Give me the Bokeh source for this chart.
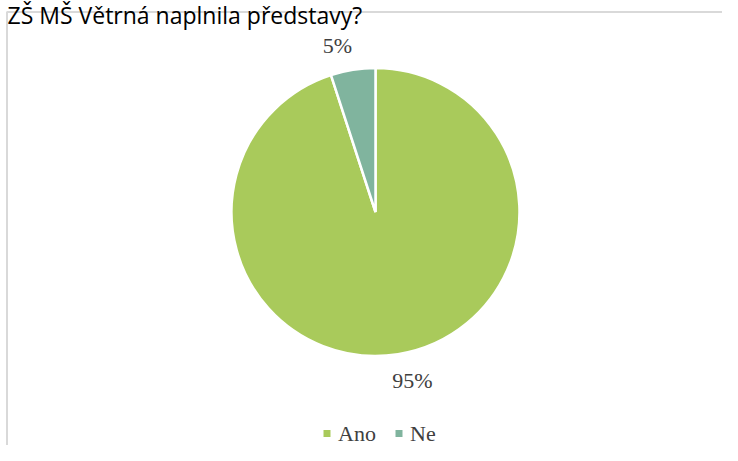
import numpy as np
from bokeh.plotting import figure
from bokeh.models import Range1d, ColumnDataSource
from bokeh.core.properties import value
from bokeh.embed import file_html
from bokeh.resources import INLINE

title_text = "ZŠ MŠ Větrná naplnila představy?"
categories = ["Ano", "Ne"]
shares = [95, 5]
colors = ["#A9CA5B", "#80B49E"]

W, H = 722, 445
TOP = 461  # picture height used for y positions measured from top

p = figure(width=W, height=H, output_backend="svg", toolbar_location=None,
           x_range=Range1d(0, W), y_range=Range1d(TOP - H, TOP),
           min_border=0, outline_line_color=None)
p.axis.visible = False
p.xgrid.visible = False
p.ygrid.visible = False
p.background_fill_color = "white"

# chart frame (cut-off at right and bottom)
p.line(x=[6.5, 6.5, W + 5], y=[0, TOP - 11.5, TOP - 11.5], line_color="#D9D9D9", line_width=2)

# title (cut off at top as in the source)
p.text(x=[7], y=[TOP - 14.5], text=[title_text], text_font=value("Open Sans"),
       text_font_size="23px", text_color="#000000", text_baseline="alphabetic")

# pie
cx, cy, r = 375, TOP - 211.5, 144
vals = np.array(shares, dtype=float)
frac = vals / vals.sum()
cum_end = np.cumsum(frac)
cum_start = cum_end - frac
start = np.pi / 2 - 2 * np.pi * cum_end
end = np.pi / 2 - 2 * np.pi * cum_start
src = ColumnDataSource(dict(start=start, end=end, color=colors, cat=categories))
p.wedge(x=cx, y=cy, radius=r, start_angle="start", end_angle="end",
        color="color", line_color="white", line_width=2.5, source=src)

# data labels
labels = [f"{v}%" for v in shares]
lx = [412, 337]
ly = [TOP - 380, TOP - 45]
p.text(x=lx, y=ly, text=labels, text_font=value("Liberation Serif"),
       text_font_size="22px", text_color="#404040", text_align="center",
       text_baseline="middle")

# legend
sq_x = [326.5, 398.5]
leg_y = TOP - 433
p.rect(x=sq_x, y=[leg_y] * 2, width=7, height=7, fill_color=colors, line_color=None)
p.text(x=[s + 11 for s in sq_x], y=[leg_y] * 2, text=categories,
       text_font=value("Liberation Serif"), text_font_size="22px",
       text_color="#404040", text_baseline="middle")

open("out.html", "w").write(file_html(p, INLINE))
